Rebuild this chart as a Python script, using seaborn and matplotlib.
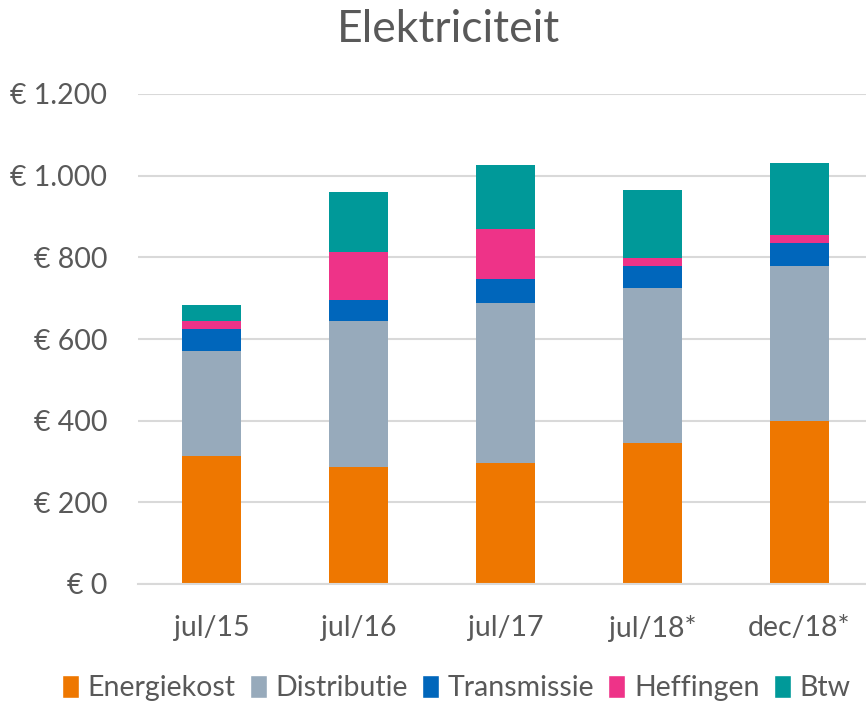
import numpy as np
import pandas as pd
import seaborn as sns
import matplotlib.pyplot as plt
from matplotlib.patches import Patch
from matplotlib.ticker import FuncFormatter

periods = ["jul/15", "jul/16", "jul/17", "jul/18*", "dec/18*"]
energiekost = [314, 286, 296, 345, 400]
distributie = [257, 357, 392, 380, 379]
transmissie = [54, 53, 58, 55, 56]
heffingen = [20, 118, 123, 19, 19]
btw = [39, 147, 157, 166, 177]

series = ["Energiekost", "Distributie", "Transmissie", "Heffingen", "Btw"]
colors = ["#EE7700", "#97AABB", "#0066BB", "#EE3388", "#009999"]

df = pd.DataFrame({
    "periode": periods,
    "Energiekost": energiekost,
    "Distributie": distributie,
    "Transmissie": transmissie,
    "Heffingen": heffingen,
    "Btw": btw,
})

sns.set_theme(style="white")
plt.rcParams['font.family'] = ['Lato', 'DejaVu Sans']
text_color = "#595959"

fig = plt.figure(figsize=(8.66, 7.04), dpi=100)
ax = fig.add_axes([138 / 866, 1 - 584 / 704, (866 - 138) / 866, 490 / 704])

# gestapelde balken
bottom = np.zeros(len(periods))
for name, col in zip(series, colors):
    sns.barplot(data=df, x="periode", y=name, color=col, width=0.4,
                bottom=bottom, saturation=1, ax=ax, linewidth=0)
    bottom = bottom + df[name].values

ax.set_ylim(0, 1200)
ax.set_xlim(-0.5, 4.5 - 6.8 / 146.9)
ax.set_yticks(range(0, 1201, 200))
ax.yaxis.set_major_formatter(FuncFormatter(lambda v, p: "€ " + f"{int(v):,}".replace(",", ".")))
ax.grid(axis="y", color="#D9D9D9", linewidth=1.5)
ax.set_axisbelow(True)
for s in ["top", "right", "left"]:
    ax.spines[s].set_visible(False)
ax.spines["bottom"].set_color("#D9D9D9")
ax.spines["bottom"].set_linewidth(1.5)
ax.set_xlabel("")
ax.set_ylabel("")
ax.tick_params(axis="y", length=0, pad=22, labelsize=20.5, labelcolor=text_color)
ax.tick_params(axis="x", length=0, pad=22, labelsize=20.5, labelcolor=text_color)

fig.text(448 / 866, 1 - 30 / 704, "Elektriciteit", ha="center", va="center",
         fontsize=32, color=text_color)

handles = [Patch(facecolor=c, label=n) for n, c in zip(series, colors)]
fig.legend(handles=handles, loc="center", bbox_to_anchor=(456 / 866, 1 - 688 / 704),
           ncol=5, frameon=False, fontsize=20.5, labelcolor=text_color,
           handlelength=0.6, handleheight=0.9, handletextpad=0.3, columnspacing=0.5)

fig.savefig("out.png", dpi=100)
